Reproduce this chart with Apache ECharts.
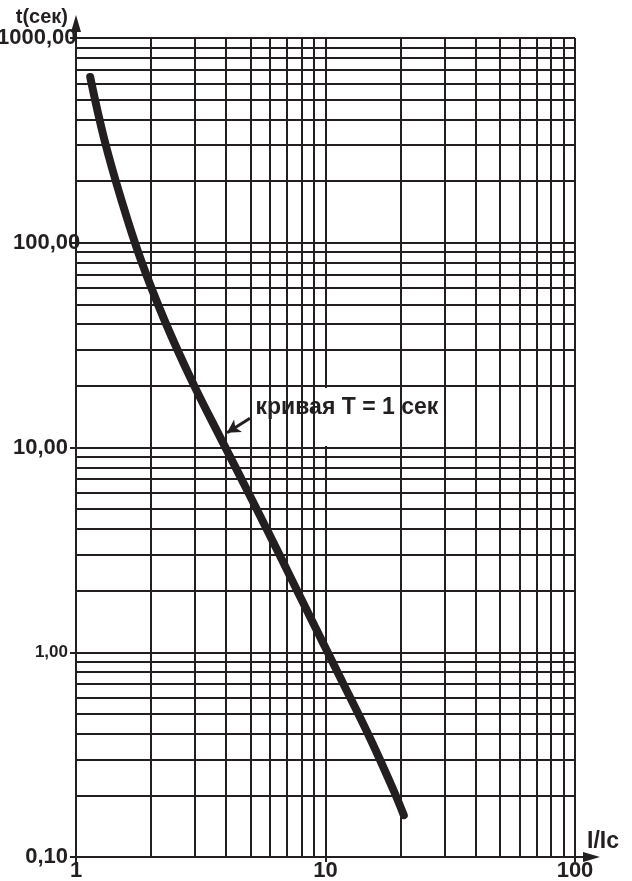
<!DOCTYPE html>
<html>
<head>
<meta charset="utf-8">
<style>
  html, body { margin: 0; padding: 0; background: #fff; }
  #chart { width: 632px; height: 881px; }
</style>
<script src="https://cdn.jsdelivr.net/npm/echarts@6/dist/echarts.min.js"></script>
</head>
<body>
<div id="chart"></div>
<script>
// кривая T = 1 сек
const currentRatio = [1.14, 1.30, 1.52, 1.82, 2.26, 2.90, 3.83, 5.08, 6.70, 8.79, 11.6, 15.2, 18.7, 20.6];
const tripTime = [645, 318, 162, 82.4, 42.0, 21.4, 10.9, 5.54, 2.82, 1.44, 0.73, 0.373, 0.213, 0.16];

const xTickLabels = ['1', '10', '100'];
const yTickLabels = ['0,10', '1,00', '10,00', '100,00', '1000,00'];
// rich style per y label (the two top labels sit over the axis in the original)
const yLabelStyles = ['', 's', '', 'b', 'a'];
const curveName = 'кривая T = 1 сек';

// minor grid lines 2..9 of every decade
const minorSteps = [2, 3, 4, 5, 6, 7, 8, 9];
const xDecades = [1, 10];
const yDecades = [0.1, 1, 10, 100];
const xMinor = xDecades.flatMap(d => minorSteps.map(m => +(m * d).toPrecision(3)));
const yMinor = yDecades.flatMap(d => minorSteps.map(m => +(m * d).toPrecision(3)));

const ink = '#231f20';
const font = '"Liberation Sans", Arial, sans-serif';
// axis arrow: triangle with a stem so it joins the axis line
const arrowPath = 'path://M5,0L10,17L6,17L6,40L4,40L4,17L0,17Z';
const labelFont = { color: ink, fontFamily: font, fontWeight: 'bold', fontSize: 22 };

const myChart = echarts.init(document.getElementById('chart'));
myChart.setOption({
  backgroundColor: '#fff',
  animation: false,
  grid: { left: 76, right: 57, top: 38, bottom: 24, containLabel: false, outerBoundsMode: 'none' },
  xAxis: {
    type: 'log',
    logBase: 10,
    min: 1,
    max: 100,
    name: 'I/Ic',
    nameLocation: 'end',
    nameGap: 12,
    nameTextStyle: {
      color: ink, fontFamily: font, fontWeight: 'bold', fontSize: 23,
      verticalAlign: 'bottom', padding: [0, 0, 4, 0]
    },
    axisLine: {
      lineStyle: { color: ink, width: 2 },
      symbol: ['none', arrowPath],
      symbolSize: [10, 40],
      symbolOffset: [0, 5]
    },
    axisTick: { show: true, length: 5, lineStyle: { color: ink, width: 2 } },
    axisLabel: {
      ...labelFont, margin: 3,
      formatter: v => xTickLabels[Math.round(Math.log10(v))]
    },
    splitLine: { show: true, lineStyle: { color: ink, width: 2 } }
  },
  yAxis: {
    type: 'log',
    logBase: 10,
    min: 0.1,
    max: 1000,
    name: 't(сек)',
    nameLocation: 'end',
    nameGap: 18,
    nameTextStyle: {
      color: ink, fontFamily: font, fontWeight: 'bold', fontSize: 20,
      align: 'right', verticalAlign: 'middle', padding: [0, 8, 0, 0]
    },
    axisLine: {
      lineStyle: { color: ink, width: 2 },
      symbol: ['none', arrowPath],
      symbolSize: [10, 40],
      symbolOffset: [0, 3]
    },
    axisTick: { show: true, length: 6, lineStyle: { color: ink, width: 2 } },
    axisLabel: {
      ...labelFont, margin: 8,
      formatter: v => {
        const i = Math.round(Math.log10(v)) + 1;
        const st = yLabelStyles[i];
        return st ? '{' + st + '|' + yTickLabels[i] + '}' : yTickLabels[i];
      },
      rich: {
        s: { ...labelFont, fontSize: 17 },
        a: { ...labelFont, width: 71, align: 'left' },
        b: { ...labelFont, width: 55, align: 'left' }
      }
    },
    splitLine: { show: true, lineStyle: { color: ink, width: 2 } }
  },
  series: [
    {
      name: 'grid',
      type: 'line',
      data: [],
      z: 1,
      silent: true,
      markLine: {
        silent: true,
        symbol: ['none', 'none'],
        label: { show: false },
        lineStyle: { color: ink, width: 2, type: 'solid' },
        data: xMinor.map(v => ({ xAxis: v })).concat(yMinor.map(v => ({ yAxis: v })))
      }
    },
    {
      name: 'box',
      type: 'line',
      data: [],
      z: 2,
      silent: true,
      markArea: {
        silent: true,
        label: { show: false },
        itemStyle: { color: '#ffffff', opacity: 1 },
        data: [[{ coord: [4.07, 19.5] }, { coord: [19.9, 10.17] }]]
      }
    },
    {
      name: curveName,
      type: 'line',
      z: 3,
      smooth: 0.4,
      showSymbol: false,
      lineStyle: { color: ink, width: 8, cap: 'round', join: 'round' },
      data: currentRatio.map((x, i) => [x, tripTime[i]]),
      markLine: {
        silent: true,
        symbol: ['none', 'arrow'],
        symbolSize: [11, 13],
        label: { show: false },
        lineStyle: { color: ink, width: 3, type: 'solid' },
        data: [[{ coord: [4.98, 13.9] }, { coord: [4.03, 11.8] }]]
      },
      markPoint: {
        silent: true,
        symbol: 'circle',
        symbolSize: 1,
        itemStyle: { color: 'rgba(0,0,0,0)' },
        label: {
          show: true, position: 'right', distance: 0,
          color: ink, fontFamily: font, fontWeight: 'bold', fontSize: 23,
          formatter: curveName
        },
        data: [{ coord: [5.22, 15.6] }]
      }
    }
  ]
});
</script>
</body>
</html>
